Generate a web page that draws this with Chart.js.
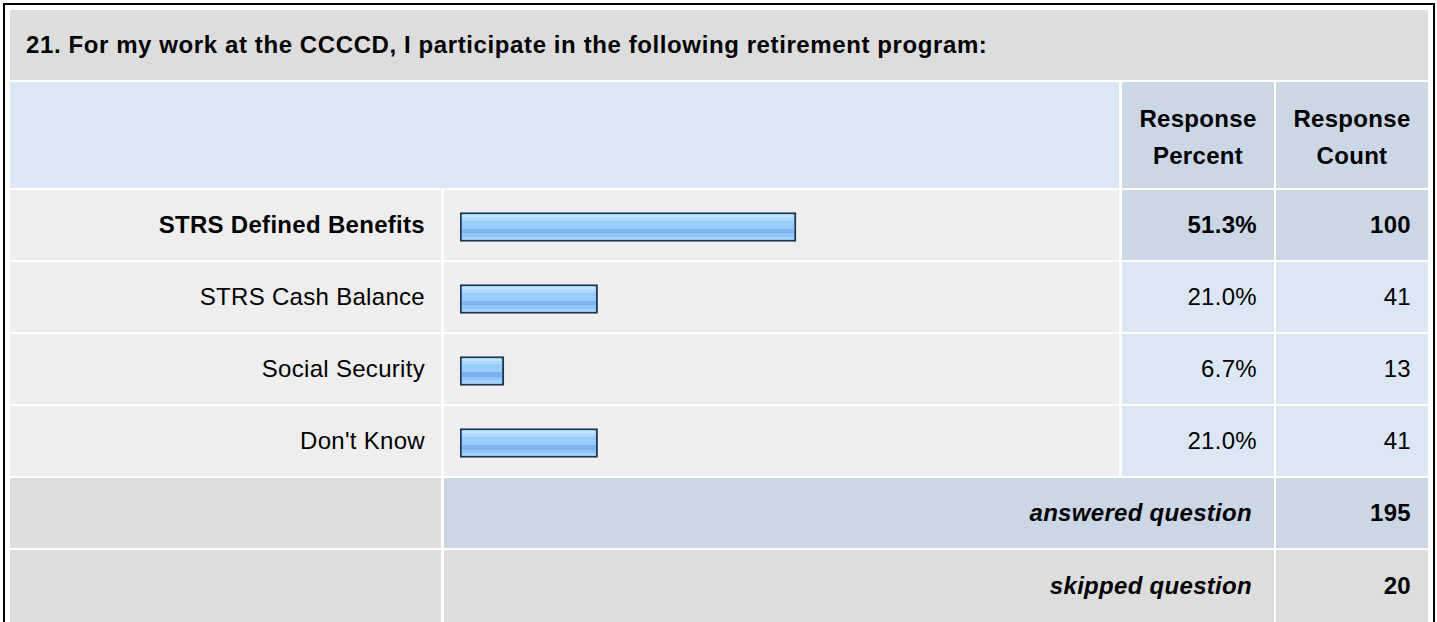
<!DOCTYPE html>
<html>
<head>
<meta charset="utf-8">
<script src="https://cdn.jsdelivr.net/npm/chart.js@4.4.1/dist/chart.umd.min.js"></script>
<style>
  html, body { margin: 0; padding: 0; background: #ffffff; overflow: hidden; }
  body { width: 1437px; height: 622px; position: relative; font-family: "Liberation Sans", Arial, Helvetica, sans-serif; color: #000; }
  .frame { position: absolute; left: 3px; top: 3px; width: 1428px; height: 640px; border: 2px solid #000; box-sizing: content-box; }
  .cell { position: absolute; box-sizing: border-box; display: flex; align-items: center; font-size: 24px; letter-spacing: 0.3px; }
  .r { justify-content: flex-end; text-align: right; }
  .c { justify-content: center; text-align: center; }
  .b { font-weight: bold; }
  .i { font-style: italic; }
  #chartWrap { position: absolute; left: 444px; top: 191px; width: 675px; height: 288px; }
</style>
</head>
<body>
<div class="frame"></div>
<div id="table"></div>
<div id="chartWrap"><canvas id="c" width="675" height="288"></canvas></div>
<script>
// ---- data ----
const title = "21. For my work at the CCCCD, I participate in the following retirement program:";
const categories = ["STRS Defined Benefits", "STRS Cash Balance", "Social Security", "Don't Know"];
const responsePercent = [51.3, 21.0, 6.7, 21.0];
const responseCount = [100, 41, 13, 41];
const headerPercent = ["Response", "Percent"];
const headerCount = ["Response", "Count"];
const answeredLabel = "answered question";
const skippedLabel = "skipped question";
const answeredCount = 195;
const skippedCount = 20;

// ---- table layout ----
const GRAY = "#dddddd", LIGHT = "#eeeeee", BLUE = "#dce7f5", SLATE = "#cbd7e5";
const colL = [10, 441], colBar = [444, 1119], colP = [1122, 1274], colC = [1276, 1428];
const table = document.getElementById("table");
function cell(x0, x1, y0, y1, bg, html, cls, pad) {
  const d = document.createElement("div");
  d.className = "cell " + (cls || "");
  d.style.left = x0 + "px"; d.style.top = y0 + "px";
  d.style.width = (x1 - x0) + "px"; d.style.height = (y1 - y0) + "px";
  d.style.background = bg;
  if (pad) d.style.padding = pad;
  if (html !== undefined) d.innerHTML = html;
  table.appendChild(d);
  return d;
}
// title row
const t = cell(10, 1428, 10, 80, GRAY, title, "b", "0 0 0 16px");
t.style.letterSpacing = "0.6px";
// header row
cell(10, 1119, 82, 188, BLUE);
const hp = cell(colP[0], colP[1], 82, 188, SLATE, headerPercent.join("<br>"), "b c");
const hc = cell(colC[0], colC[1], 82, 188, SLATE, headerCount.join("<br>"), "b c");
hp.style.lineHeight = hc.style.lineHeight = "37px";
hp.style.paddingTop = hc.style.paddingTop = "4px";
// data rows
categories.forEach((name, i) => {
  const y0 = 190 + 72 * i, y1 = y0 + 70;
  const top = i === 0;
  cell(colL[0], colL[1], y0, y1, LIGHT, name, "r" + (top ? " b" : ""), "0 16px 0 0");
  cell(colBar[0], colBar[1], y0, y1, LIGHT);
  cell(colP[0], colP[1], y0, y1, top ? SLATE : BLUE, responsePercent[i].toFixed(1) + "%", "r" + (top ? " b" : ""), "0 17px 0 0");
  cell(colC[0], colC[1], y0, y1, top ? SLATE : BLUE, String(responseCount[i]), "r" + (top ? " b" : ""), "0 17px 0 0");
});
// summary rows
cell(colL[0], colL[1], 478, 548, GRAY);
cell(colBar[0], colP[1], 478, 548, SLATE, answeredLabel, "r b i", "0 22px 0 0");
cell(colC[0], colC[1], 478, 548, SLATE, String(answeredCount), "r b", "0 17px 0 0");
cell(colL[0], colL[1], 550, 622, GRAY);
cell(colBar[0], colP[1], 550, 622, GRAY, skippedLabel, "r b i", "0 22px 0 0");
cell(colC[0], colC[1], 550, 622, GRAY, String(skippedCount), "r b", "0 17px 0 0");

// ---- chart ----
const stripePlugin = {
  id: "stripes",
  afterDatasetsDraw(chart) {
    const ctx = chart.ctx;
    const meta = chart.getDatasetMeta(0);
    meta.data.forEach(el => {
      const p = el.getProps(["x", "y", "base", "height"], true);
      const bw = 2;
      const left = Math.min(p.base, p.x) + bw, right = Math.max(p.base, p.x) - bw;
      const top = p.y - p.height / 2 + bw, bottom = p.y + p.height / 2 - bw;
      const g = ctx.createLinearGradient(0, top, 0, bottom);
      g.addColorStop(0, "#c2e1ff"); g.addColorStop(0.12, "#c2e1ff");
      g.addColorStop(0.12, "#aad6ff"); g.addColorStop(0.24, "#aad6ff");
      g.addColorStop(0.24, "#99ccff"); g.addColorStop(0.56, "#99ccff");
      g.addColorStop(0.56, "#7cb2f0"); g.addColorStop(0.76, "#7cb2f0");
      g.addColorStop(0.76, "#8fc5fb"); g.addColorStop(0.88, "#8fc5fb");
      g.addColorStop(0.88, "#a6d3ff"); g.addColorStop(1, "#a6d3ff");
      ctx.save();
      ctx.fillStyle = g;
      ctx.fillRect(left, top, right - left, bottom - top);
      ctx.restore();
    });
  }
};

new Chart(document.getElementById("c"), {
  type: "bar",
  data: {
    labels: categories,
    datasets: [{
      data: responsePercent,
      backgroundColor: "#99ccff",
      borderColor: "#1d3458",
      borderWidth: 2,
      borderSkipped: false,
      barThickness: 29
    }]
  },
  options: {
    indexAxis: "y",
    responsive: false,
    animation: false,
    devicePixelRatio: 1,
    layout: { padding: { left: 16, right: 4, top: 0, bottom: 0 } },
    scales: {
      x: { display: false, min: 0, max: 100 },
      y: { display: false }
    },
    plugins: { legend: { display: false }, tooltip: { enabled: false } }
  },
  plugins: [stripePlugin]
});
</script>
</body>
</html>
